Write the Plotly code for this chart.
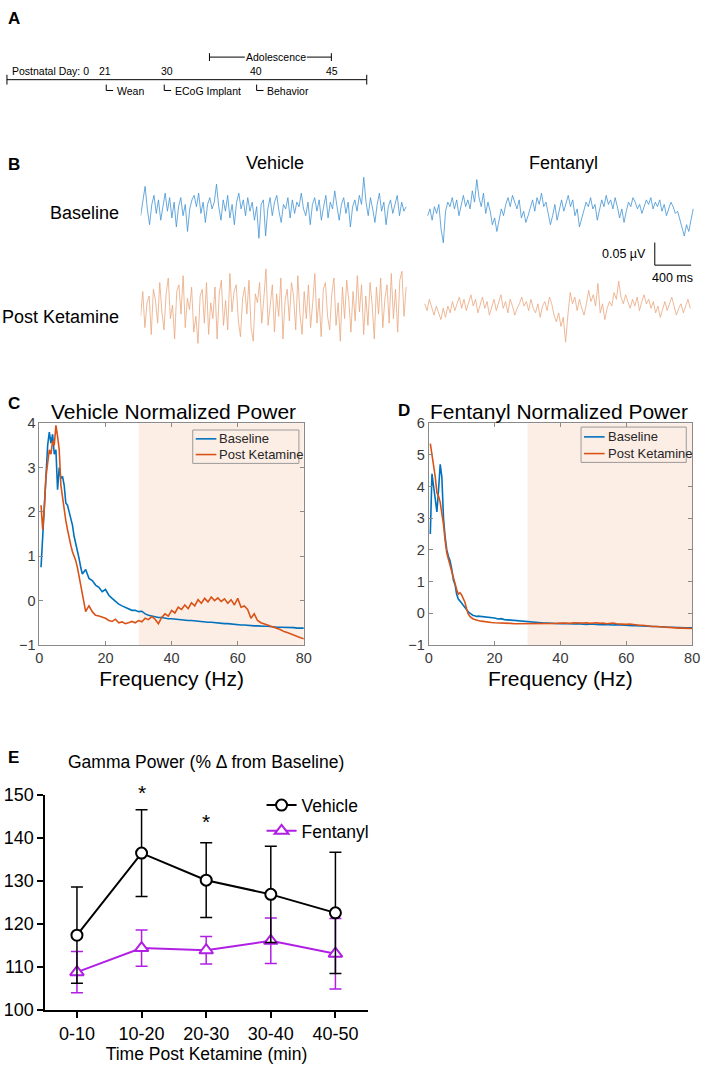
import plotly.graph_objects as go

# ======================= DATA =======================
# Panel A: developmental timeline
TIMELINE_LABELS = ["Postnatal Day: 0", "21", "30", "40", "45"]
EVENT_LABELS = ["Wean", "ECoG Implant", "Behavior"]
PERIOD_LABEL = "Adolescence"

# Panel B: example ECoG traces (nV, relative to trace centre)
B_COLUMNS = ["Vehicle", "Fentanyl"]
B_ROWS = ["Baseline", "Post Ketamine"]
TRACE_DURATION_MS = 2920
SCALE_UV = 0.05
SCALE_MS = 400

VEH_BASELINE = [-10, 20, 55, 5, -30, 15, 35, -5, 25, -20, 10, 40, 0, 30, -15, 20, -35, 10, 30, -10,
                15, -45, 5, 25, 35, 10, 40, -5, 20, -25, 15, 30, 5, 20, 60, 10, -20, 25, 0, 35,
                -15, 15, -30, 20, 40, 5, 25, -10, 30, 0, 20, -20, 10, -60, 15, 25, -55, 5, 30, -10,
                20, 35, 0, -25, 15, 5, 30, -15, 25, -5, 20, 10, 40, 5, -10, 20, -30, 15, 30, 0,
                25, -20, 10, 35, -15, 20, 5, 45, 10, -20, 15, 30, -5, 20, -35, 10, 25, 0, 35, 15,
                75, 20, -10, 30, 5, -25, 15, 40, 0, 20, -30, 10, 25, -5, 15, 35, -10, 20, 0, 10]
FEN_BASELINE = [-10, 5, -20, 10, -5, 15, -40, -70, 0, 20, 10, 30, 5, 25, -10, 15, 35, 10, 25, 5,
                45, 20, 70, 30, 10, 40, -5, 20, 0, -30, -15, -45, -20, 5, -10, 15, 30, 10, 35, 20,
                5, 25, -15, 0, -25, -10, 10, 25, 0, 30, 15, 40, 10, 20, -5, -30, -10, 15, -20, 5,
                25, 0, 15, 35, 10, 25, -10, 5, -35, -15, 0, 20, 10, 30, 5, 15, -20, 0, 25, 10,
                35, 15, 25, 5, 30, 10, -15, 5, -25, 0, 20, 10, 30, 20, 5, 15, -5, 10, 25, 15,
                30, 5, 20, 10, 25, 0, 15, -10, 5, 20, 10, -5, 0, -20, -40, -55, -30, -45, -20, 5]
VEH_POSTKET = [-20, 35, -45, 10, 25, -60, 40, 15, -35, 55, -10, -50, 30, 65, -25, 5, -70, 35, 50, -15,
               70, -45, 20, -5, 45, -55, -20, -80, 25, 40, -35, 55, -60, 10, -25, 45, -70, 30, 60, -40,
               15, -50, 75, -10, 35, 50, -30, -65, 20, 45, -15, 60, -45, -75, 30, 10, 55, -35, 20, 85,
               -40, 5, 50, -55, 30, -20, 65, -70, 15, 40, -30, 55, 25, -50, 70, -15, -60, 35, -25, 50,
               -45, 10, 75, -35, 20, -65, 40, 55, -20, -50, 30, 65, -40, 10, -75, 45, -25, 60, 15, -55,
               35, -30, 70, -10, 50, -60, 25, -40, 55, 5, -70, 45, -15, 65, -45, 20, 50, -35, 75, -25,
               40, -55, 60, 80, -20, 45]
FEN_POSTKET = [10, -5, 20, 0, -15, 5, -10, -25, 0, -20, 5, -10, 15, -5, 10, 25, 0, 20, -5, 15,
               30, 5, 20, -10, 10, 25, 0, 15, -15, 5, 20, -5, 10, 30, 0, 15, -10, 20, 5, -15,
               0, 10, 25, 5, 15, -5, 20, 0, -10, 10, -20, 5, 15, -5, 25, 10, -15, -30, -10, -40,
               -20, -75, -15, 35, 10, 25, -5, 20, 0, -15, 10, 40, 15, 30, 5, 55, -10, 10, -25, 0,
               15, 5, 35, 20, 60, 25, 10, 30, 15, 0, 20, 5, 25, -5, 15, 30, 10, 20, 0, 15,
               -10, 5, -20, 0, 15, -5, 10, 25, 5, -15, 0, 10, -10, 5, 20, 0]

# Panels C / D: normalized power spectra
FREQ_HZ = [0.5 * k for k in range(1, 31)] + list(range(16, 81))
SPECTRUM_SERIES = ["Baseline", "Post Ketamine"]
GAMMA_BAND_HZ = [30, 80]
VEH_BASE_POWER = [0.75, 1.5, 2.3, 3.0, 3.5, 3.8, 3.55, 3.75, 3.3, 3.4, 2.5, 3.0, 2.75, 2.8, 2.6,
                  2.2, 2.15, 2.0, 1.85, 1.7, 1.45, 1.3, 1.1, 0.95, 0.75, 0.6, 0.65, 0.7, 0.6, 0.5,
                  0.45, 0.35, 0.3, 0.2, 0.25, 0.12, 0.05, -0.02, -0.08, -0.12,
                  -0.15, -0.18, -0.22, -0.22, -0.25, -0.24, -0.3, -0.33, -0.35, -0.37,
                  -0.38, -0.38, -0.4, -0.41, -0.41, -0.42, -0.43, -0.43, -0.44, -0.45,
                  -0.45, -0.46, -0.47, -0.47, -0.48, -0.49, -0.49, -0.5, -0.5, -0.51,
                  -0.52, -0.52, -0.53, -0.54, -0.54, -0.55, -0.55, -0.56, -0.56, -0.57,
                  -0.57, -0.58, -0.58, -0.58, -0.59, -0.59, -0.6, -0.6, -0.6, -0.61,
                  -0.61, -0.61, -0.62, -0.62, -0.62]
VEH_KET_POWER = [2.15, 1.6, 2.1, 2.8, 3.1, 3.4, 3.3, 3.6, 3.5, 3.95, 3.7, 3.4, 2.6, 2.3, 2.1,
                 1.8, 1.6, 1.4, 1.25, 1.1, 1.0, 0.9, 0.75, 0.55, 0.35, 0.1, -0.1, -0.25, -0.18, -0.12,
                 -0.25, -0.33, -0.35, -0.38, -0.4, -0.45, -0.47, -0.42, -0.5, -0.48,
                 -0.52, -0.5, -0.47, -0.5, -0.45, -0.48, -0.4, -0.43, -0.36, -0.42,
                 -0.52, -0.38, -0.3, -0.35, -0.22, -0.28, -0.15, -0.2, -0.1, -0.18,
                 -0.05, -0.12, 0.02, -0.06, 0.05, -0.03, 0.08, 0.0, 0.06, -0.02,
                 0.04, -0.06, 0.02, -0.1, 0.05, -0.15, -0.12, -0.2, -0.4, -0.3,
                 -0.45, -0.5, -0.52, -0.55, -0.58, -0.6, -0.63, -0.66, -0.7, -0.72,
                 -0.75, -0.79, -0.82, -0.84, -0.86]
FEN_BASE_POWER = [2.5, 4.4, 4.0, 3.6, 3.2, 3.9, 4.7, 4.3, 3.0, 2.4, 2.0, 1.8, 1.65, 1.4, 1.05,
                  0.9, 0.6, 0.45, 0.4, 0.32, 0.25, 0.18, 0.1, 0.05, 0.0, -0.05, -0.07, -0.08, -0.1, -0.09,
                  -0.1, -0.12, -0.12, -0.14, -0.15, -0.18, -0.17, -0.2, -0.21, -0.22,
                  -0.22, -0.24, -0.25, -0.26, -0.28, -0.28, -0.29, -0.3, -0.3, -0.31,
                  -0.31, -0.32, -0.31, -0.32, -0.33, -0.32, -0.33, -0.33, -0.34, -0.33,
                  -0.34, -0.34, -0.35, -0.34, -0.35, -0.35, -0.36, -0.35, -0.36, -0.36,
                  -0.37, -0.36, -0.37, -0.37, -0.38, -0.38, -0.39, -0.39, -0.4, -0.4,
                  -0.41, -0.41, -0.42, -0.42, -0.43, -0.43, -0.44, -0.44, -0.44, -0.45,
                  -0.45, -0.45, -0.46, -0.46, -0.46]
FEN_KET_POWER = [5.35, 5.0, 4.8, 4.3, 3.8, 3.7, 3.5, 3.2, 2.8, 2.3, 1.9, 1.7, 1.5, 1.35, 1.1,
                 0.95, 0.75, 0.6, 0.65, 0.58, 0.45, 0.35, 0.15, -0.02, -0.1, -0.15, -0.18, -0.2, -0.22, -0.23,
                 -0.25, -0.27, -0.28, -0.29, -0.3, -0.3, -0.31, -0.31, -0.32, -0.32,
                 -0.33, -0.33, -0.34, -0.34, -0.34, -0.33, -0.33, -0.32, -0.33, -0.32,
                 -0.33, -0.32, -0.33, -0.32, -0.31, -0.32, -0.31, -0.32, -0.3, -0.31,
                 -0.32, -0.31, -0.3, -0.32, -0.31, -0.3, -0.32, -0.31, -0.33, -0.32,
                 -0.31, -0.33, -0.34, -0.33, -0.35, -0.34, -0.36, -0.37, -0.38, -0.38,
                 -0.4, -0.41, -0.42, -0.42, -0.43, -0.44, -0.45, -0.45, -0.46, -0.46,
                 -0.47, -0.47, -0.48, -0.48, -0.48]

# Panel E: gamma power (% change from baseline)
TIME_BINS = ["0-10", "10-20", "20-30", "30-40", "40-50"]
VEH_GAMMA = [117.4, 136.5, 130.2, 126.9, 122.6]
VEH_SEM = [11.2, 10.1, 8.7, 11.2, 14.1]
FEN_GAMMA = [108.8, 114.4, 113.9, 116.1, 113.1]
FEN_SEM = [4.8, 4.2, 3.2, 5.3, 8.2]
SIG_BINS = ["10-20", "20-30"]
SIG_Y = [151.8, 145.1]

# ======================= LAYOUT HELPERS =======================
W, H = 708, 1072
FONT = "Arial, Liberation Sans, sans-serif"


def PX(x):
    return x / W


def PY(y):
    return 1 - y / H


annotations = []
shapes = []


def text(t, x, y, size, xanchor="center", yanchor="middle", bold=False, color="black"):
    annotations.append(dict(
        text=f"<b>{t}</b>" if bold else t, x=PX(x), y=PY(y), xref="paper", yref="paper",
        xanchor=xanchor, yanchor=yanchor, showarrow=False,
        font=dict(family=FONT, size=size, color=color)))


def line(x0, y0, x1, y1, width=1, color="black"):
    shapes.append(dict(type="line", xref="paper", yref="paper",
                       x0=PX(x0), y0=PY(y0), x1=PX(x1), y1=PY(y1),
                       line=dict(color=color, width=width)))


fig = go.Figure()

# ---------------- Panel A ----------------
text("A", 2, 9, 17, xanchor="left", bold=True)
line(3, 71, 369, 71)
line(3, 66, 3, 76)
line(369, 66, 369, 76)
tl_x = [6, 103, 166, 256, 334]
text(TIMELINE_LABELS[0], tl_x[0], 62, 10.5, xanchor="left")
for lab, x in zip(TIMELINE_LABELS[1:], tl_x[1:]):
    text(lab, x, 62, 10.5)
line(209, 48, 245, 48)
line(308, 48, 333, 48)
line(209, 44, 209, 52)
line(333, 44, 333, 52)
text(PERIOD_LABEL, 276.5, 48, 10.5)
for lab, x in zip(EVENT_LABELS, [104, 163, 257]):
    line(x, 76, x, 82)
    line(x, 82, x + 7, 82)
    text(lab, x + 8.5, 83, 10.5, xanchor="left")

# ---------------- Panel B ----------------
text("B", 2, 157, 17, xanchor="left", bold=True)
text(B_COLUMNS[0], 276, 156, 18)
text(B_COLUMNS[1], 569, 156, 18)
text(B_ROWS[0], 119, 207, 18, xanchor="right")
text(B_ROWS[1], 119, 313, 18, xanchor="right")

B_TOP, B_BOT = 160, 345
UV_PER_PX = 1 / 460.0
B_RANGE = (B_BOT - B_TOP) * UV_PER_PX
MS_PER_PX = 400 / 37.0
B_X0, B_X1 = 139, 702


def uv_at(py):
    return B_RANGE - (py - B_TOP) * UV_PER_PX


def ms_at(px):
    return (px - B_X0) * MS_PER_PX


def add_trace_b(vals, start_px, centre_py, color):
    n = len(vals)
    t0 = ms_at(start_px)
    c = uv_at(centre_py)
    fig.add_trace(go.Scatter(
        x=[t0 + i * TRACE_DURATION_MS / (n - 1) for i in range(n)],
        y=[c + v / 1000.0 for v in vals],
        mode="lines", line=dict(color=color, width=0.8),
        xaxis="x4", yaxis="y4", showlegend=False, hoverinfo="skip"))


BLUE_T = "#4193d3"
ORNG_T = "#eaa77e"
add_trace_b(VEH_BASELINE, 139, 205, BLUE_T)
add_trace_b(FEN_BASELINE, 431, 205, BLUE_T)
add_trace_b(VEH_POSTKET, 139, 303, ORNG_T)
add_trace_b(FEN_POSTKET, 428, 304, ORNG_T)

sb_t = ms_at(662)
sb_v = uv_at(260)
shapes.append(dict(type="line", xref="x4", yref="y4", x0=sb_t, x1=sb_t, y0=sb_v, y1=sb_v + SCALE_UV,
                   line=dict(color="black", width=1)))
shapes.append(dict(type="line", xref="x4", yref="y4", x0=sb_t, x1=sb_t + SCALE_MS, y0=sb_v, y1=sb_v,
                   line=dict(color="black", width=1)))
text(f"{SCALE_UV} µV", 655, 249, 12.5, xanchor="right")
text(f"{SCALE_MS} ms", 680, 273, 12.5)

# ---------------- Panels C / D ----------------
MBLUE = "#0072BD"
MORNG = "#D95319"
AXC = "#8a8a8a"
TICKC = "#3a3a3a"

text("C", 2, 401, 17, xanchor="left", bold=True)
text("Vehicle Normalized Power", 172, 409, 21)
text("D", 399, 408, 17, xanchor="left", bold=True)
text("Fentanyl Normalized Power", 565, 409, 21)

for (xa, ya, base, ket) in [("x", "y", VEH_BASE_POWER, VEH_KET_POWER),
                            ("x2", "y2", FEN_BASE_POWER, FEN_KET_POWER)]:
    fig.add_trace(go.Scatter(x=FREQ_HZ, y=base, mode="lines", name=SPECTRUM_SERIES[0],
                             line=dict(color=MBLUE, width=1.6), xaxis=xa, yaxis=ya, showlegend=False))
    fig.add_trace(go.Scatter(x=FREQ_HZ, y=ket, mode="lines", name=SPECTRUM_SERIES[1],
                             line=dict(color=MORNG, width=1.6), xaxis=xa, yaxis=ya, showlegend=False))
    shapes.append(dict(type="rect", xref=xa, yref=ya + " domain", x0=GAMMA_BAND_HZ[0],
                       x1=GAMMA_BAND_HZ[1], y0=0, y1=1, fillcolor="#fdeee5",
                       line=dict(width=0), layer="below"))


def box_legend(x0, y0, x1, y1, rows_y):
    shapes.append(dict(type="rect", xref="paper", yref="paper", x0=PX(x0), x1=PX(x1),
                       y0=PY(y1), y1=PY(y0), line=dict(color="#9a9a9a", width=1),
                       fillcolor="rgba(0,0,0,0)"))
    for name, col, yy in zip(SPECTRUM_SERIES, [MBLUE, MORNG], rows_y):
        line(x0 + 3, yy, x0 + 24, yy, width=1.6, color=col)
        text(name, x0 + 25, yy, 13, xanchor="left", color="#262626")


box_legend(192, 428, 300, 462, [437, 453])
box_legend(587, 425, 694, 461, [435, 452])

spec_x = dict(range=[0, 80], tickvals=[0, 20, 40, 60, 80], showline=True, mirror="ticks",
              linecolor=AXC, linewidth=1, ticks="inside", ticklen=4, tickcolor=AXC,
              showgrid=False, zeroline=False,
              tickfont=dict(family=FONT, size=14.5, color=TICKC),
              title=dict(text="Frequency (Hz)", font=dict(family=FONT, size=21, color="black"),
                         standoff=5))
spec_y = dict(showline=True, mirror="ticks", linecolor=AXC, linewidth=1, ticks="inside",
              ticklen=4, tickcolor=AXC, showgrid=False, zeroline=False,
              tickfont=dict(family=FONT, size=14.5, color=TICKC))

# ---------------- Panel E ----------------
PURPLE = "#b01fe3"
E_TOP, E_BOT = 800, 1019
text("E", 2, 762, 17, xanchor="left", bold=True)
text("Gamma Power (% Δ from Baseline)", 205, 766, 17.5)

fig.add_trace(go.Scatter(
    x=TIME_BINS, y=FEN_GAMMA, mode="lines+markers", name="Fentanyl", legendrank=2,
    line=dict(color=PURPLE, width=2),
    marker=dict(symbol="triangle-up", size=12, color="white", line=dict(color=PURPLE, width=2)),
    error_y=dict(type="data", array=FEN_SEM, color=PURPLE, thickness=1.5, width=6),
    xaxis="x3", yaxis="y3"))
fig.add_trace(go.Scatter(
    x=TIME_BINS, y=VEH_GAMMA, mode="lines+markers", name="Vehicle", legendrank=1,
    line=dict(color="black", width=2),
    marker=dict(symbol="circle", size=11, color="white", line=dict(color="black", width=2)),
    error_y=dict(type="data", array=VEH_SEM, color="black", thickness=1.5, width=6),
    xaxis="x3", yaxis="y3"))

E_RANGE = [100, 150]
for b, yv in zip(SIG_BINS, SIG_Y):
    ypx = E_BOT - (yv - E_RANGE[0]) / (E_RANGE[1] - E_RANGE[0]) * (E_BOT - E_TOP)
    annotations.append(dict(text="*", x=b, xref="x3", y=PY(ypx + 5), yref="paper",
                            showarrow=False, yanchor="middle",
                            font=dict(family=FONT, size=21, color="black")))

fig.update_layout(
    width=W, height=H, autosize=False,
    margin=dict(l=0, r=0, t=0, b=0),
    paper_bgcolor="white", plot_bgcolor="white",
    font=dict(family=FONT),
    xaxis=dict(domain=[PX(36), PX(305)], anchor="y", **spec_x),
    yaxis=dict(domain=[PY(647), PY(421)], anchor="x", range=[-1, 4], tickvals=[-1, 0, 1, 2, 3, 4], **spec_y),
    xaxis2=dict(domain=[PX(432), PX(700)], anchor="y2", **spec_x),
    yaxis2=dict(domain=[PY(647), PY(421)], anchor="x2", range=[-1, 6],
                tickvals=[-1, 0, 1, 2, 3, 4, 5, 6], **spec_y),
    xaxis3=dict(domain=[PX(42), PX(370)], anchor="y3", type="category", range=[-0.49, 4.5],
                showline=True, linecolor="black", linewidth=2, ticks="outside", ticklen=6,
                tickwidth=2, tickcolor="black", showgrid=False, zeroline=False,
                tickfont=dict(family=FONT, size=18, color="black"),
                title=dict(text="Time Post Ketamine (min)",
                           font=dict(family=FONT, size=17.5, color="black"), standoff=4)),
    yaxis3=dict(domain=[PY(E_BOT), PY(E_TOP)], anchor="x3", range=E_RANGE,
                tickvals=[100, 110, 120, 130, 140, 150],
                showline=True, linecolor="black", linewidth=2, ticks="outside", ticklen=6,
                tickwidth=2, tickcolor="black", showgrid=False, zeroline=False,
                tickfont=dict(family=FONT, size=18, color="black")),
    xaxis4=dict(domain=[PX(B_X0), PX(B_X1)], anchor="y4", range=[0, ms_at(B_X1)], visible=False),
    yaxis4=dict(domain=[PY(B_BOT), PY(B_TOP)], anchor="x4", range=[0, B_RANGE], visible=False),
    showlegend=True,
    legend=dict(x=PX(262), y=PY(792), xanchor="left", yanchor="top", bgcolor="rgba(0,0,0,0)",
                borderwidth=0, itemwidth=30, traceorder="normal",
                font=dict(family=FONT, size=17.5, color="black")),
    annotations=annotations,
    shapes=shapes,
)

fig.write_html(
    "out.html",
    config={"displayModeBar": False, "staticPlot": True},
    post_script="document.body.style.margin='0';document.body.style.padding='0';"
                "document.body.style.overflow='hidden';",
)
